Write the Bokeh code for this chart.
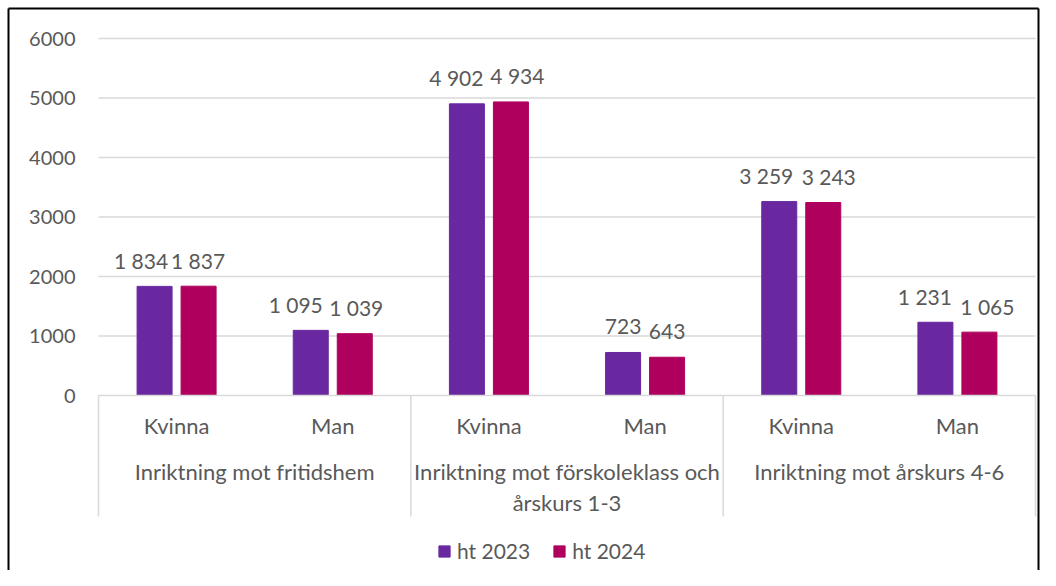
from bokeh.plotting import figure
from bokeh.models import Range1d, ColumnDataSource, Legend, LegendItem
from bokeh.core.properties import value
from bokeh.embed import file_html
from bokeh.resources import INLINE

groups = ["Inriktning mot fritidshem", "Inriktning mot förskoleklass och\nårskurs 1-3", "Inriktning mot årskurs 4-6"]
subcats = ["Kvinna", "Man", "Kvinna", "Man", "Kvinna", "Man"]
series = ["ht 2023", "ht 2024"]
ht2023 = [1834, 1095, 4902, 723, 3259, 1231]
ht2024 = [1837, 1039, 4934, 643, 3243, 1065]
yticks = [0, 1000, 2000, 3000, 4000, 5000, 6000]

# layout / style (pixels)
W, H = 1040, 570
PLOT_L, PLOT_R = 98, 1035      # plot area left/right in px
Y0_PX, PX_PER_1000 = 395, 59.5  # y px of value 0, px per 1000
label_nudge_px = [[-13.5, -15, -10.5, 0, -13, -10.5], [-0.5, 1.5, 6.5, 0, 5.5, 8]]

FONT = "Lato"
TXT = "#595959"
GRID = "#d9d9d9"
COLORS = ["#6A28A0", "#B0005E"]

n = len(subcats)
UNIT = (PLOT_R - PLOT_L) / n


def px2x(px):
    return (px - PLOT_L) / UNIT


def px2y(py):
    return (Y0_PX - py) / PX_PER_1000 * 1000


p = figure(width=W, height=H, output_backend="svg", toolbar_location=None,
           x_range=Range1d(px2x(0), px2x(W)), y_range=Range1d(px2y(H), px2y(0)),
           min_border=0, min_border_left=0, min_border_right=0,
           min_border_top=0, min_border_bottom=0)
p.xaxis.visible = False
p.yaxis.visible = False
p.xgrid.visible = False
p.ygrid.visible = False
p.outline_line_color = None

# chart border (left, top, right)
bx0, bx1, by1 = px2x(8), px2x(W - 2), px2y(8)
p.segment(x0=[bx0, bx0, bx1], x1=[bx0, bx1, bx1], y0=[px2y(H + 5), by1, by1], y1=[by1, by1, px2y(H + 5)],
          line_color="black", line_width=2)

# gridlines
p.segment(x0=[0] * (len(yticks) - 1), x1=[n] * (len(yticks) - 1), y0=yticks[1:], y1=yticks[1:],
          line_color=GRID, line_width=1.3)
# y tick labels
p.text(x=[px2x(75)] * len(yticks), y=yticks, text=[str(t) for t in yticks],
       text_font=value(FONT), text_font_size="20px", text_color=TXT,
       text_align="right", text_baseline="middle")

# bars
bw = 35 / UNIT
off = 22 / UNIT
legend_items = []
for k, (vals, col, name) in enumerate(zip([ht2023, ht2024], COLORS, series)):
    xs = [i + 0.5 + (-off if k == 0 else off) for i in range(n)]
    src = ColumnDataSource(dict(x=xs, top=vals, lab=[f"{v:,}".replace(",", " ") for v in vals],
                                nudge=label_nudge_px[k]))
    r = p.vbar(x="x", top="top", width=bw, bottom=0, source=src, fill_color=col, line_color=col)
    legend_items.append(LegendItem(label=name, renderers=[r]))
    p.text(x="x", y="top", text="lab", source=src, y_offset=-26, x_offset="nudge",
           text_font=value(FONT), text_font_size="21px", text_color=TXT,
           text_align="center", text_baseline="middle")

# category axis line and separators
p.segment(x0=[0], x1=[n], y0=[0], y1=[0], line_color=GRID, line_width=1.5)
sep_x = [0, 2, 4, 6]
p.segment(x0=sep_x, x1=sep_x, y0=[0] * 4, y1=[px2y(516)] * 4, line_color=GRID, line_width=1.5)

# subcategory labels
p.text(x=[i + 0.5 for i in range(n)], y=[px2y(425)] * n, text=subcats,
       text_font=value(FONT), text_font_size="22px", text_color=TXT,
       text_align="center", text_baseline="middle")
# group labels (one text row per line)
lines = [g.split("\n") for g in groups]
for li, ypx in enumerate([471, 502]):
    txts = [ls[li] if li < len(ls) else "" for ls in lines]
    p.text(x=[2 * j + 1 for j in range(len(groups))], y=[px2y(ypx)] * len(groups), text=txts,
           text_font=value(FONT), text_font_size="22px", text_color=TXT,
           text_align="center", text_baseline="middle")

legend = Legend(items=legend_items, orientation="horizontal", location=(437, 7),
                glyph_width=14, glyph_height=14, label_standoff=6, spacing=22,
                padding=0, margin=0, border_line_color=None, background_fill_alpha=0,
                label_text_font=FONT, label_text_font_size="21px", label_text_color=TXT)
p.add_layout(legend, "center")

open("out.html", "w").write(file_html(p, INLINE))
